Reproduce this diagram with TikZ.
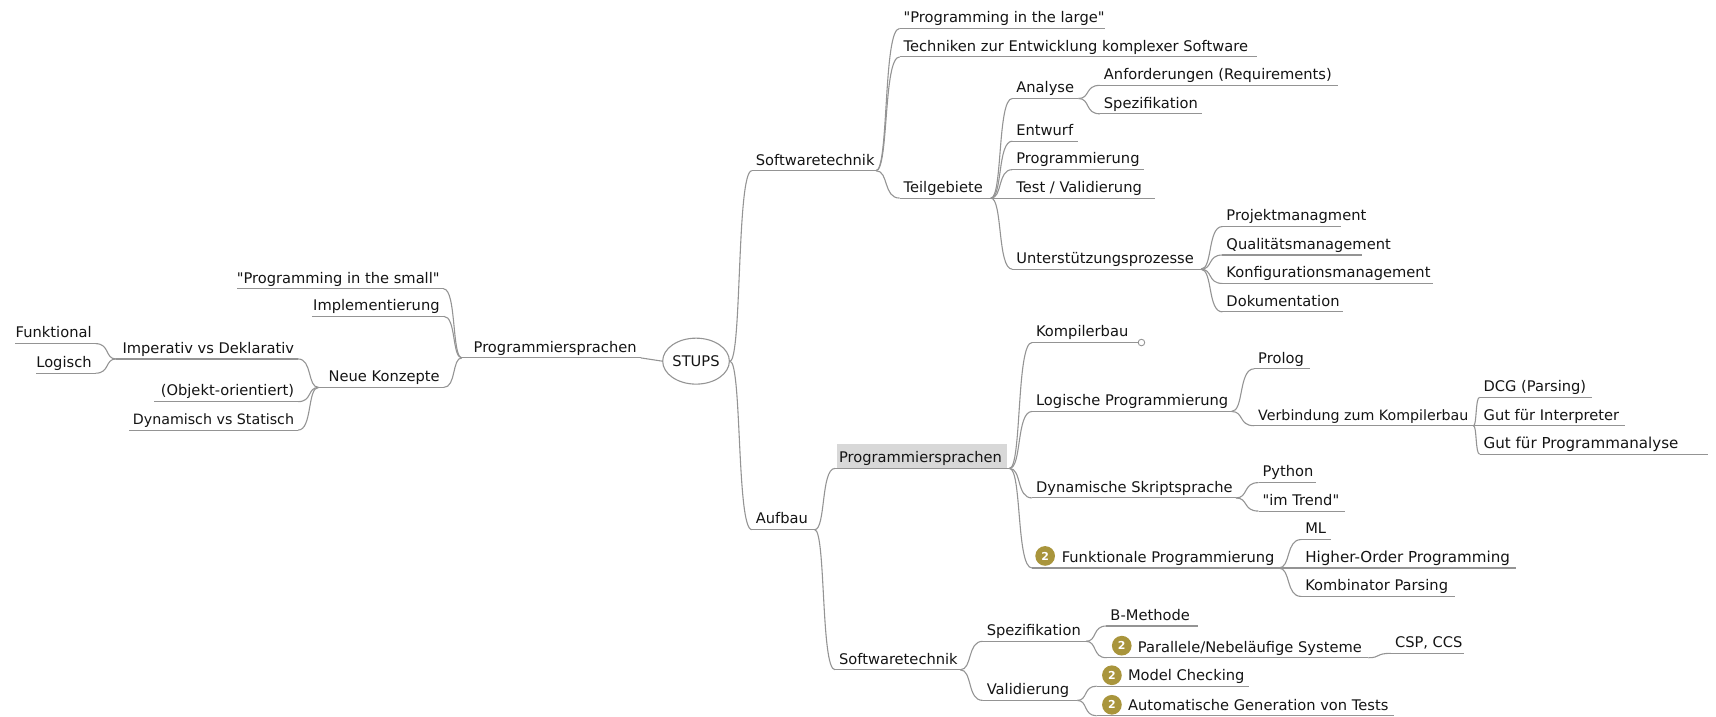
\documentclass[tikz,border=0pt]{standalone}
\usepackage{fontspec}
\setmainfont{DejaVu Sans}[Ligatures=TeXOff]
\usetikzlibrary{calc,shapes.geometric}
\definecolor{linegrey}{HTML}{949494}
\definecolor{badge}{HTML}{A9953C}
\definecolor{hilite}{HTML}{D8D8D8}
\newcommand{\tighter}{\fontsize{13}{15}\selectfont}
\newcommand{\wider}{\fontsize{13.8}{15}\selectfont}
\tikzset{
  topic/.style={anchor=south west,inner xsep=3.5pt,inner ysep=0pt,text height=10pt,text depth=5pt,font=\fontsize{13.4}{15}\selectfont,text=black!92},
  branch/.style={draw=linegrey,line width=1pt},
  rootnode/.style={ellipse,draw=linegrey,line width=1pt,minimum width=56pt,minimum height=42pt,inner sep=0pt,font=\fontsize{13.4}{15}\selectfont,text=black!92},
  prio/.style={circle,fill=badge,text=white,inner sep=0pt,minimum size=18pt,font=\bfseries\fontsize{10}{10}\selectfont},
  foldmark/.style={circle,draw=linegrey,fill=white,line width=0.8pt,minimum size=6pt,inner sep=0pt}
}
% \topic[l or r]{name}{x0}{x1}{y}{text}
\newcommand{\topic}[6][l]{%
  \pgfmathsetlengthmacro{\tw}{(#4-#3)*1pt-7pt}%
  \node[topic] (#2) at (#3,#5) {\makebox[\tw][#1]{#6}};
  \draw[branch] (#2.south west) -- (#2.south east);
}
\newcommand{\linkR}[2]{\draw[branch] let \p1=(#1),\p2=(#2.south west) in (\p1) .. controls ({\x1+0.55*(\x2-\x1)},\y1) and ({\x1+0.3*(\x2-\x1)},\y2) .. (\p2);}
\newcommand{\linkL}[2]{\draw[branch] let \p1=(#1),\p2=(#2.south east) in (\p1) .. controls ({\x1+0.55*(\x2-\x1)},\y1) and ({\x1+0.3*(\x2-\x1)},\y2) .. (\p2);}
\begin{document}
\begin{tikzpicture}[x=1pt,y=-1pt]
\useasboundingbox (0,0) rectangle (1568,655);
\fill[hilite] (765,406) rectangle (920,428);
\node[rootnode] (root) at (636,330) {STUPS};
% left
\topic[r]{lp}{422}{585}{327}{Programmiersprachen}
\topic[r]{lsmall}{217}{405}{264}{"Programming in the small"}
\topic[r]{limpl}{285}{405}{289}{Implementierung}
\topic[r]{lneu}{291}{405}{354}{Neue Konzepte}
\topic[r]{limp}{106}{272}{328}{Imperativ vs Deklarativ}
\topic[r]{lobj}{141}{272}{367}{(Objekt-orientiert)}
\topic[r]{ldyn}{118}{272}{393}{\tighter Dynamisch vs Statisch}
\topic[r]{lfunk}{14}{87}{314}{Funktional}
\topic[r]{llog}{33}{87}{341}{Logisch}
\draw[branch] (lp.south east) -- (root.west);
\linkL{lp.south west}{lsmall}
\linkL{lp.south west}{limpl}
\linkL{lp.south west}{lneu}
\linkL{lneu.south west}{limp}
\linkL{lneu.south west}{lobj}
\linkL{lneu.south west}{ldyn}
\linkL{limp.south west}{lfunk}
\linkL{limp.south west}{llog}
% upper right
\topic{soft}{687}{800}{156}{Softwaretechnik}
\topic{large}{822}{1009}{26}{"Programming in the large"}
\topic{tech}{822}{1148}{52}{Techniken zur Entwicklung komplexer Software}
\topic{teil}{822}{905}{181}{Teilgebiete}
\topic{ana}{925}{985}{90}{Analyse}
\topic{anf}{1005}{1222}{78}{Anforderungen (Requirements)}
\topic{spez}{1005}{1098}{104}{Spezifikation}
\topic{entw}{925}{985}{129}{Entwurf}
\topic{prog}{925}{1045}{155}{Programmierung}
\topic{test}{925}{1055}{181}{Test / Validierung}
\topic{unt}{925}{1097}{246}{Unterstützungsprozesse}
\topic{proj}{1117}{1225}{207}{Projektmanagment}
\topic{qual}{1117}{1244}{233}{Qualitätsmanagement}
\topic{konf}{1117}{1309}{259}{Konfigurationsmanagement}
\topic{doku}{1117}{1227}{285}{Dokumentation}
\linkR{root.east}{soft}
\linkR{soft.south east}{large}
\linkR{soft.south east}{tech}
\linkR{soft.south east}{teil}
\linkR{teil.south east}{ana}
\linkR{teil.south east}{entw}
\linkR{teil.south east}{prog}
\linkR{teil.south east}{test}
\linkR{teil.south east}{unt}
\linkR{ana.south east}{anf}
\linkR{ana.south east}{spez}
\linkR{unt.south east}{proj}
\linkR{unt.south east}{qual}
\linkR{unt.south east}{konf}
\linkR{unt.south east}{doku}
% lower right
\topic{auf}{687}{744}{484}{Aufbau}
\topic{rp}{763}{922}{428}{Programmiersprachen}
\topic{rs}{763}{877}{612}{Softwaretechnik}
\topic{kom}{943}{1040}{313}{Kompilerbau}
\node[foldmark] (fold) at (1043,313) {};
\topic{logi}{943}{1125}{376}{Logische Programmierung}
\topic{dyn}{943}{1129}{455}{Dynamische Skriptsprache}
\topic{fun}{943}{1168}{519}{\hspace*{23.5pt}Funktionale Programmierung}
\node[prio] (fun2) at (955,508) {2};
\topic{pro}{1146}{1197}{337}{Prolog}
\topic{ver}{1146}{1346}{389}{\tighter Verbindung zum Kompilerbau}
\topic{dcg}{1352}{1454}{363}{DCG (Parsing)}
\topic{gint}{1352}{1484}{389}{Gut für Interpreter}
\topic{gpro}{1352}{1560}{415}{\wider Gut für Programmanalyse}
\topic{py}{1150}{1202}{441}{Python}
\topic{trend}{1150}{1229}{467}{"im Trend"}
\topic{ml}{1189}{1216}{493}{ML}
\topic{hig}{1189}{1385}{519}{\wider Higher-Order Programming}
\topic{kpar}{1189}{1329}{545}{Kombinator Parsing}
\topic{sp}{898}{992}{586}{Spezifikation}
\topic{val}{898}{984}{640}{Validierung}
\topic{bm}{1011}{1094}{572}{B-Methode}
\topic{par}{1011}{1250}{601}{\hspace*{25pt}Parallele/Nebeläufige Systeme}
\node[prio] (par2) at (1025,590) {2};
\topic{csp}{1271}{1337}{597}{CSP, CCS}
\topic{mc}{1002}{1141}{627}{\hspace*{25pt}Model Checking}
\node[prio] (mc2) at (1016,617) {2};
\topic{agt}{1002}{1273}{654}{\hspace*{25pt}Automatische Generation von Tests}
\node[prio] (agt2) at (1016,644) {2};
\linkR{root.east}{auf}
\linkR{auf.south east}{rp}
\linkR{auf.south east}{rs}
\linkR{rp.south east}{kom}
\linkR{rp.south east}{logi}
\linkR{rp.south east}{dyn}
\linkR{rp.south east}{fun}
\draw[branch] (kom.south east) -- (fold);
\linkR{logi.south east}{pro}
\linkR{logi.south east}{ver}
\linkR{ver.south east}{dcg}
\linkR{ver.south east}{gint}
\linkR{ver.south east}{gpro}
\linkR{dyn.south east}{py}
\linkR{dyn.south east}{trend}
\linkR{fun.south east}{ml}
\linkR{fun.south east}{hig}
\linkR{fun.south east}{kpar}
\linkR{rs.south east}{sp}
\linkR{rs.south east}{val}
\linkR{sp.south east}{bm}
\linkR{sp.south east}{par}
\linkR{par.south east}{csp}
\linkR{val.south east}{mc}
\linkR{val.south east}{agt}
\end{tikzpicture}
\end{document}
